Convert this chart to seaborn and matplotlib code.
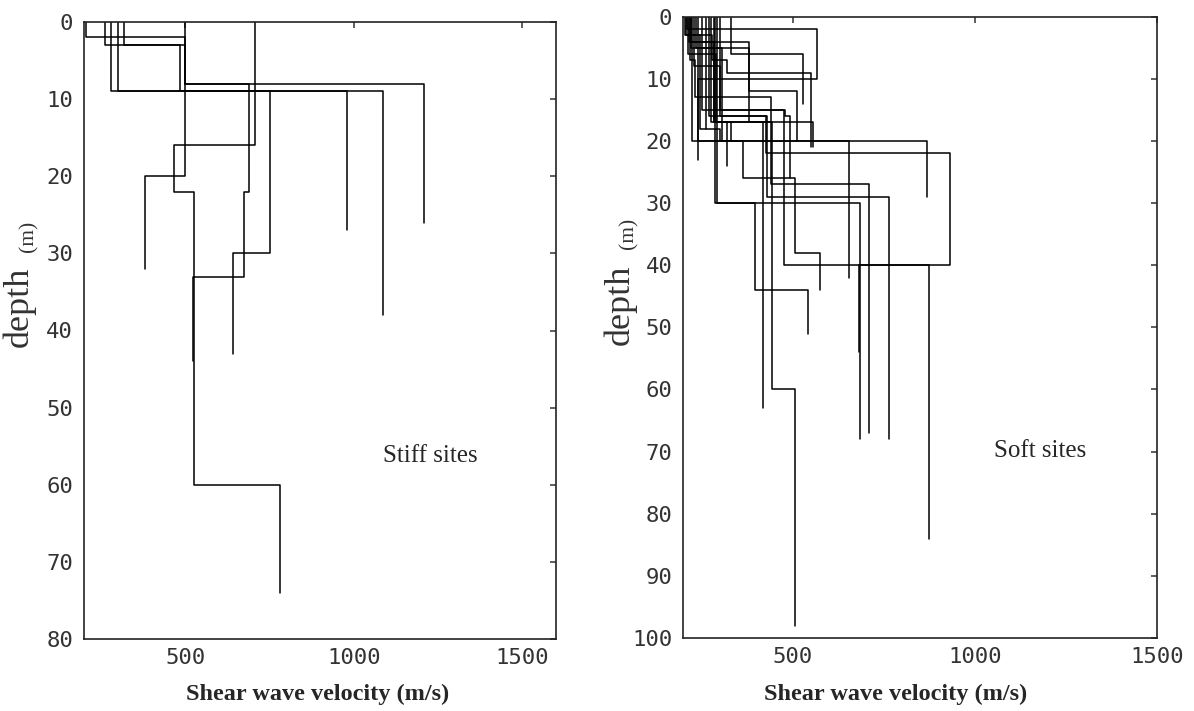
import numpy as np
import pandas as pd
import matplotlib
matplotlib.use("Agg")
import matplotlib.pyplot as plt
import seaborn as sns

# ---------------- data: layer velocities (m/s) and layer bottom depths (m) ----------------
stiff_vs = [
    [205, 500, 1207],
    [500, 380],
    [707, 468, 525, 780],
    [262, 500, 688, 674, 522],
    [280, 1087],
    [302, 979],
    [319, 485, 753, 642],
]
stiff_depth = [
    [2, 8, 26],
    [20, 32],
    [16, 22, 60, 74],
    [3, 8, 22, 33, 44],
    [9, 38],
    [9, 27],
    [3, 9, 30, 43],
]

soft_vs = [
    [287, 685],
    [331, 527],
    [210, 568, 240],
    [215, 380, 513],
    [205, 278, 319, 550],
    [240, 868],
    [220, 305, 655],
    [230, 300, 427, 932, 683],
    [225, 365, 506, 575],
    [262, 440, 710],
    [270, 430, 765],
    [300, 477, 874],
    [292, 398, 541],
    [285, 419],
    [275, 442, 507],
    [235, 380, 557],
    [218, 233, 262],
    [208, 246, 300],
    [212, 290, 320],
    [222, 285, 331],
    [250, 479, 493],
]
soft_depth = [
    [30, 68],
    [6, 14],
    [2, 10, 23],
    [4, 12, 20],
    [3, 7, 9, 21],
    [20, 29],
    [5, 20, 42],
    [8, 16, 22, 40, 54],
    [20, 26, 38, 44],
    [13, 27, 67],
    [16, 29, 68],
    [15, 40, 84],
    [30, 44, 51],
    [17, 63],
    [17, 60, 98],
    [5, 17, 21],
    [7, 13, 18],
    [3, 18, 20],
    [6, 17, 24],
    [4, 17, 20],
    [15, 16, 26],
]

x_ticks = [500, 1000, 1500]
stiff_yticks = list(range(0, 81, 10))
soft_yticks = list(range(0, 101, 10))


def profiles_to_frame(vs_list, depth_list):
    rows = []
    for site, (vs, dep) in enumerate(zip(vs_list, depth_list)):
        top = 0
        order = 0
        for v, d in zip(vs, dep):
            rows.append((site, order, v, top)); order += 1
            rows.append((site, order, v, d)); order += 1
            top = d
    return pd.DataFrame(rows, columns=["site", "order", "vs", "depth"])


stiff_df = profiles_to_frame(stiff_vs, stiff_depth)
soft_df = profiles_to_frame(soft_vs, soft_depth)

sns.set_style("white")
plt.rcParams["font.family"] = ["DejaVu Sans"]

fig = plt.figure(figsize=(11.94, 7.11), dpi=100)
ax1 = fig.add_axes([84 / 1194, 1 - 639 / 711, 472 / 1194, 617 / 711])
ax2 = fig.add_axes([683.3 / 1194, 1 - 638 / 711, 474 / 1194, 621.3 / 711])

for ax, df, xlim, ylim, yt in [
    (ax1, stiff_df, (200, 1600), (80, 0), stiff_yticks),
    (ax2, soft_df, (200, 1500), (100, 0), soft_yticks),
]:
    sns.lineplot(data=df, x="vs", y="depth", units="site", estimator=None,
                 sort=False, color="black", linewidth=1.1, ax=ax, legend=False)
    ax.set_xlim(*xlim)
    ax.set_ylim(*ylim)
    ax.set_xticks(x_ticks)
    ax.set_yticks(yt)
    ax.set_xlabel("")
    ax.set_ylabel("")
    for s in ax.spines.values():
        s.set_color("#222222")
        s.set_linewidth(1.2)
        s.set_visible(True)
    ax.tick_params(direction="in", length=4.5, width=1.1, color="#333333",
                   top=True, right=True, labelsize=16, labelcolor="#333333")
    ax.tick_params(axis="y", pad=8)
    ax.tick_params(axis="x", pad=6.5)
    for lab in ax.get_xticklabels() + ax.get_yticklabels():
        lab.set_family("DejaVu Sans Mono")

# axis labels
fig.text(318 / 1194, 1 - 694 / 711, "Shear wave velocity (m/s)", ha="center", va="center",
         family="Liberation Serif", fontweight="bold", fontsize=17.5)
fig.text(896 / 1194, 1 - 694 / 711, "Shear wave velocity (m/s)", ha="center", va="center",
         family="Liberation Serif", fontweight="bold", fontsize=17.5)

# depth (m) labels (two sizes)
for xd, ydep, xm, ym in [(19, 307, 29, 236), (620, 305, 629, 233)]:
    fig.text(xd / 1194, 1 - ydep / 711, "depth", rotation=90, ha="center", va="center",
             family="Liberation Serif", fontsize=26, color="#333333")
    fig.text(xm / 1194, 1 - ym / 711, "(m)", rotation=90, ha="center", va="center",
             family="Liberation Serif", fontsize=15.5, color="#333333")

# panel annotations
fig.text(430 / 1194, 1 - 456 / 711, "Stiff sites", ha="center", va="center",
         family="Liberation Serif", fontsize=18)
fig.text(1040 / 1194, 1 - 451 / 711, "Soft sites", ha="center", va="center",
         family="Liberation Serif", fontsize=18)

fig.savefig("out.png", dpi=100)
